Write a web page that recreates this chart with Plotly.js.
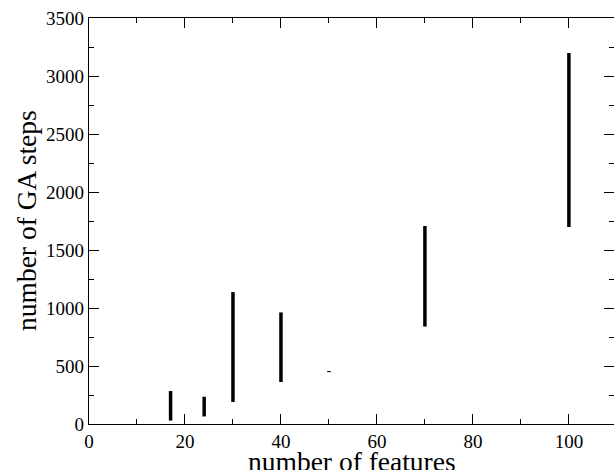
<!DOCTYPE html>
<html>
<head>
<meta charset="utf-8">
<script src="https://cdn.plot.ly/plotly-3.0.1.min.js"></script>
<style>html,body{margin:0;padding:0;background:#fff;}#chart{width:614px;height:470px;}</style>
</head>
<body>
<div id="chart"></div>
<script>
const features = [17, 24, 30, 40, 50, 70, 100];
const stepsMin = [30, 65, 190, 362, 447, 840, 1698];
const stepsMax = [285, 235, 1137, 962, 457, 1707, 3198];
const xTitle = 'number of features';
const yTitle = 'number of GA steps';

const traces = features.map((f, i) => ({
  type: 'scatter',
  mode: 'lines',
  x: [f, f],
  y: [stepsMin[i], stepsMax[i]],
  line: {color: '#000', width: 3.5},
  hoverinfo: 'x+y',
  showlegend: false
}));

const serif = '"Liberation Serif", "Times New Roman", Times, serif';
const tickFont = {family: serif, size: 19, color: '#000'};
const axisCommon = {
  showgrid: false, zeroline: false, showline: true, linecolor: '#000', linewidth: 1.2,
  mirror: 'ticks', ticks: 'inside', ticklen: 10, tickwidth: 1, tickcolor: '#000',
  tickfont: tickFont
};

const layout = {
  width: 614, height: 470,
  margin: {l: 89, r: 0, t: 18, b: 46},
  paper_bgcolor: '#fff', plot_bgcolor: '#fff',
  font: {family: serif, color: '#000'},
  xaxis: Object.assign({}, axisCommon, {
    range: [0, 109.4], dtick: 20, tick0: 0,
    minor: {dtick: 10, ticklen: 5, tickwidth: 1, tickcolor: '#000', ticks: 'inside'}
  }),
  yaxis: Object.assign({}, axisCommon, {
    range: [0, 3500], dtick: 500, tick0: 0,
    minor: {dtick: 250, ticklen: 5, tickwidth: 1, tickcolor: '#000', ticks: 'inside'}
  }),
  annotations: [
    {text: xTitle, xref: 'paper', yref: 'paper', x: 0.5, y: -0.092, xanchor: 'center', yanchor: 'middle',
     showarrow: false, font: {family: serif, size: 27.5, color: '#000'}},
    {text: yTitle, xref: 'paper', yref: 'paper', x: -0.0, xshift: -63, y: 0.5, xanchor: 'center', yanchor: 'middle',
     textangle: -90, showarrow: false, font: {family: serif, size: 27.5, color: '#000'}}
  ]
};

Plotly.newPlot('chart', traces, layout, {displayModeBar: false, staticPlot: true});
</script>
</body>
</html>
